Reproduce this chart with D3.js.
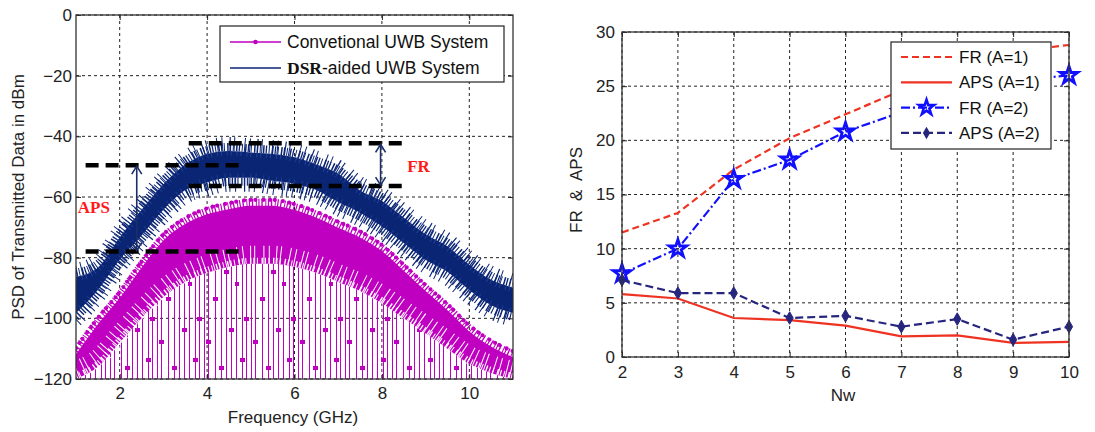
<!DOCTYPE html>
<html>
<head>
<meta charset="utf-8">
<script src="https://cdn.jsdelivr.net/npm/d3@7"></script>
<style>
  body { margin: 0; background: #fff; }
  svg { display: block; font-family: "Liberation Sans", Arial, sans-serif; }
</style>
</head>
<body>
<svg id="chart" width="1095" height="432"></svg>
<script>
// ---- left panel: PSD envelopes (dBm) ----
const freq = [1, 1.5, 2, 2.5, 3, 3.5, 4, 4.5, 5, 5.5, 6, 6.5, 7, 7.5, 8, 8.5, 9, 9.5, 10, 10.5, 11];
const dsrTop = [-85, -82, -72, -63, -54.5, -48, -44.5, -43.5, -44, -44.5, -45.6, -48, -51, -56.5, -60, -65.5, -71, -75, -81, -86, -88.5];
const dsrBottom = [-99.6, -92, -82, -74, -65.5, -59, -56.5, -55, -55, -56, -57, -59, -63, -66.5, -71, -76.5, -82, -86, -92, -97, -99.5];
const convTop = [-110.5, -100.6, -92, -82, -73, -67.6, -64.4, -62.7, -61.6, -61.6, -63, -65.5, -68.8, -72, -76.5, -83, -89.7, -96, -103, -108, -111.5];
const convDense = [-120, -116, -108, -100, -93, -88, -85, -83, -82, -82, -83, -85, -88, -91, -95, -100, -105, -110, -115, -118, -120];
const freqTicks = [2, 4, 6, 8, 10];
const psdTicks = [-120, -100, -80, -60, -40, -20, 0];

// annotation guides (data units)
const guideLines = [
  {x0: 1.22, x1: 4.88, y: -49.5},
  {x0: 1.22, x1: 4.88, y: -78},
  {x0: 3.58, x1: 8.51, y: -42.3},
  {x0: 3.58, x1: 8.51, y: -56.4}
];
const guideArrows = [
  {x: 2.39, y0: -49.5, y1: -78},
  {x: 7.97, y0: -42.3, y1: -56.4}
];
const guideLabels = [
  {text: "APS", x: 1.04, y: -65.4},
  {text: "FR", x: 8.58, y: -51.8}
];

// ---- right panel ----
const nw = [2, 3, 4, 5, 6, 7, 8, 9, 10];
const frA1 = [11.5, 13.3, 17.3, 20.2, 22.4, 24.6, 26.5, 28.2, 28.8];
const apsA1 = [5.8, 5.4, 3.6, 3.4, 2.9, 1.9, 2.0, 1.3, 1.4];
const frA2 = [7.7, 10.0, 16.4, 18.2, 20.8, 22.6, 24.2, 25.5, 26.0];
const apsA2 = [7.1, 5.9, 5.9, 3.6, 3.8, 2.8, 3.5, 1.6, 2.8];
const nwTicks = [2, 3, 4, 5, 6, 7, 8, 9, 10];
const frTicks = [0, 5, 10, 15, 20, 25, 30];

const MAG = "#c000c0", NAVY = "#0b2575", RED = "#ee3322", BLUE = "#1010ff", DBLUE = "#26267f";

const svg = d3.select("#chart");
const defs = svg.append("defs");

// thin vertical strokes standing in for the sparse spikes of the magenta trace
const spikes = defs.append("pattern").attr("id", "spikes")
  .attr("patternUnits", "userSpaceOnUse").attr("width", 47).attr("height", 131);
[[1, 20], [7, 96], [11, 55], [16, 118], [20, 78], [27, 35], [33, 104], [38, 8], [43, 66]].forEach(function(p) {
  spikes.append("rect").attr("x", p[0]).attr("y", 0).attr("width", 1).attr("height", 131).attr("fill", MAG);
  spikes.append("rect").attr("x", p[0] - 2).attr("y", p[1]).attr("width", 5).attr("height", 4).attr("fill", MAG);
});

function frame(g, x, y, xt, yt, pad) {
  const [x0, x1] = x.range(), [y1, y0] = y.range();
  // grid
  g.append("g").selectAll("line").data(xt).join("line")
    .attr("x1", d => x(d)).attr("x2", d => x(d)).attr("y1", y0).attr("y2", y1)
    .attr("stroke", "#222").attr("stroke-dasharray", "3,3");
  g.append("g").selectAll("line").data(yt).join("line")
    .attr("y1", d => y(d)).attr("y2", d => y(d)).attr("x1", x0).attr("x2", x1)
    .attr("stroke", "#222").attr("stroke-dasharray", "3,3");

  const ax = [
    g.append("g").attr("transform", `translate(0,${y1})`)
      .call(d3.axisBottom(x).tickValues(xt).tickSizeInner(-5).tickSizeOuter(0).tickPadding(pad.x)),
    g.append("g").attr("transform", `translate(${x0},0)`)
      .call(d3.axisLeft(y).tickValues(yt).tickSizeInner(-5).tickSizeOuter(0).tickPadding(pad.y)),
    g.append("g").attr("transform", `translate(0,${y0})`)
      .call(d3.axisTop(x).tickValues(xt).tickSizeInner(-5).tickSizeOuter(0).tickFormat("")),
    g.append("g").attr("transform", `translate(${x1},0)`)
      .call(d3.axisRight(y).tickValues(yt).tickSizeInner(-5).tickSizeOuter(0).tickFormat(""))
  ];
  ax.forEach(function(a) {
    a.select(".domain").remove();
    a.selectAll("line").attr("stroke", "#222");
    a.selectAll("text").attr("font-size", 17).attr("fill", "#222").attr("font-family", null);
  });
}

function box(g, x, y) {
  const [x0, x1] = x.range(), [y1, y0] = y.range();
  g.append("rect").attr("x", x0).attr("y", y0).attr("width", x1 - x0).attr("height", y1 - y0)
    .attr("fill", "none").attr("stroke", "#333").attr("stroke-width", 1.3);
}

// ================= LEFT PANEL =================
const xF = d3.scaleLinear().domain([1, 11]).range([76, 513]);
const yP = d3.scaleLinear().domain([-120, 0]).range([379, 15]);
const left = svg.append("g");

defs.append("clipPath").attr("id", "clipL").append("rect")
  .attr("x", 76).attr("y", 15).attr("width", 437).attr("height", 364);

frame(left, xF, yP, freqTicks, psdTicks, {x: 8, y: 4});

const spec = left.append("g").attr("clip-path", "url(#clipL)");
const rows = freq.map((f, i) => ({f, dt: dsrTop[i], db: dsrBottom[i], ct: convTop[i], cd: convDense[i]}));
const edge = (key, off) => d3.line().curve(d3.curveMonotoneX).x(d => xF(d.f)).y(d => yP(d[key]) + off);
function comb(key, off, color, width, dash, extra) {
  const p = spec.append("path").datum(rows).attr("d", edge(key, off))
    .attr("fill", "none").attr("stroke", color).attr("stroke-width", width).attr("stroke-dasharray", dash);
  if (extra) extra(p);
  return p;
}

// magenta: sparse spikes, dense body, ragged top with point markers
spec.append("path").datum(rows)
  .attr("d", d3.area().curve(d3.curveMonotoneX).x(d => xF(d.f)).y0(yP(-120)).y1(d => yP(d.cd)))
  .attr("fill", "url(#spikes)");
spec.append("path").datum(rows)
  .attr("d", d3.area().curve(d3.curveMonotoneX).x(d => xF(d.f)).y0(d => yP(d.cd)).y1(d => yP(d.ct) + 4))
  .attr("fill", MAG);
comb("cd", -9, "#fff", 18, "1,6.3,1,3.1,1,8.2,1,4.4");
comb("cd", -3, "#fff", 6, "1.2,2.4,1,3.6,1.4,1.9");
comb("ct", 1, MAG, 8, "1.2,1.8,1.4,2.6,1,1.5");
comb("ct", -2, MAG, 4.2, "0,6.5,0,4.8,0,8.1", p => p.attr("stroke-linecap", "round"));

// navy: body with comb-like ragged edges
spec.append("path").datum(rows)
  .attr("d", d3.area().curve(d3.curveMonotoneX).x(d => xF(d.f)).y0(d => yP(d.db) - 4).y1(d => yP(d.dt) + 4))
  .attr("fill", NAVY);
comb("dt", 0, NAVY, 8, "1.3,1.7,1,2.3,1.5,1.2");
comb("dt", -3, NAVY, 14, "1,4.1,1,6.7,1.2,3.2,1,9.5");
comb("db", 0, NAVY, 8, "1.3,1.7,1.1,2.6,1.4,1.3");
comb("db", 3, NAVY, 14, "1,4.7,1,7.9,1.2,3.4");
comb("dt", 6, "#3a5cb0", 5, "0.8,5.2,0.8,3.1", p => p.attr("opacity", 0.6));
comb("db", -6, "#3a5cb0", 5, "0.8,4.4,0.8,6.9", p => p.attr("opacity", 0.5));

// dashed guides, arrows, labels
left.append("g").selectAll("line").data(guideLines).join("line")
  .attr("x1", d => xF(d.x0)).attr("x2", d => xF(d.x1)).attr("y1", d => yP(d.y)).attr("y2", d => yP(d.y))
  .attr("stroke", "#000").attr("stroke-width", 4.5).attr("stroke-dasharray", "13,7");

const arr = left.append("g").selectAll("g").data(guideArrows).join("g")
  .attr("stroke", "#1b2f66").attr("stroke-width", 1.6).attr("fill", "none");
arr.append("line").attr("x1", d => xF(d.x)).attr("x2", d => xF(d.x))
  .attr("y1", d => yP(d.y0) + 1).attr("y2", d => yP(d.y1) - 1);
arr.append("path").attr("d", d => {
  const x = xF(d.x), a = yP(d.y0) + 1, b = yP(d.y1) - 1;
  return `M${x - 5},${a + 8}L${x},${a}L${x + 5},${a + 8}M${x - 5},${b - 8}L${x},${b}L${x + 5},${b - 8}`;
});

left.append("g").selectAll("text").data(guideLabels).join("text")
  .attr("x", d => xF(d.x)).attr("y", d => yP(d.y))
  .attr("font-family", "'Liberation Serif', 'Times New Roman', serif")
  .attr("font-weight", "bold").attr("font-size", 17).attr("fill", "#ff1a1a")
  .text(d => d.text);

box(left, xF, yP);

// legend
const legL = left.append("g");
legL.append("rect").attr("x", 220).attr("y", 26).attr("width", 284).attr("height", 56)
  .attr("fill", "#fff").attr("stroke", "#222").attr("stroke-width", 1.2);
legL.append("line").attr("x1", 230).attr("x2", 281).attr("y1", 42).attr("y2", 42).attr("stroke", MAG).attr("stroke-width", 1.3);
legL.append("circle").attr("cx", 255.5).attr("cy", 42).attr("r", 2.3).attr("fill", MAG);
legL.append("line").attr("x1", 230).attr("x2", 281).attr("y1", 68).attr("y2", 68).attr("stroke", NAVY).attr("stroke-width", 1.3);
legL.append("text").attr("x", 287).attr("y", 48).attr("font-size", 17.5).attr("fill", "#111")
  .text("Convetional UWB System");
const t2 = legL.append("text").attr("x", 287).attr("y", 74).attr("font-size", 17.5).attr("fill", "#111");
t2.append("tspan").attr("font-family", "'Liberation Serif', serif").attr("font-weight", "bold").text("DSR");
t2.append("tspan").text("-aided UWB System");

left.append("text").attr("x", 293).attr("y", 423).attr("text-anchor", "middle")
  .attr("font-size", 17).attr("fill", "#222").text("Frequency (GHz)");
left.append("text").attr("transform", "translate(24,197) rotate(-90)").attr("text-anchor", "middle")
  .attr("font-size", 17).attr("fill", "#222").text("PSD of Transmitted Data in dBm");

// ================= RIGHT PANEL =================
const xN = d3.scaleLinear().domain([2, 10]).range([622, 1069]);
const yR = d3.scaleLinear().domain([0, 30]).range([357, 32]);
const right = svg.append("g");

frame(right, xN, yR, nwTicks, frTicks, {x: 9, y: 7});

const series = [
  {name: "FR (A=1)", v: frA1, color: RED, dash: "7,4", w: 2.2, mark: null},
  {name: "APS (A=1)", v: apsA1, color: RED, dash: null, w: 2.2, mark: null},
  {name: "FR (A=2)", v: frA2, color: BLUE, dash: "9,3,2,3", w: 2.2, mark: "star"},
  {name: "APS (A=2)", v: apsA2, color: DBLUE, dash: "8,4", w: 2.2, mark: "diamond"}
];
const line = d3.line().x((d, i) => xN(nw[i])).y(d => yR(d));
const starSym = d3.symbol().type(d3.symbolStar).size(95);
const starLeg = d3.symbol().type(d3.symbolStar).size(70);
const diaSym = d3.symbol().type(d3.symbolDiamond).size(45);

series.forEach(function(s) {
  right.append("path").datum(s.v).attr("d", line)
    .attr("fill", "none").attr("stroke", s.color).attr("stroke-width", s.w)
    .attr("stroke-dasharray", s.dash);
  if (s.mark === "star") {
    right.append("g").selectAll("path").data(s.v).join("path")
      .attr("transform", (d, i) => `translate(${xN(nw[i])},${yR(d)})`)
      .attr("d", starSym).attr("fill", "none").attr("stroke", s.color).attr("stroke-width", 2.8);
  } else if (s.mark === "diamond") {
    right.append("g").selectAll("path").data(s.v).join("path")
      .attr("transform", (d, i) => `translate(${xN(nw[i])},${yR(d)})`)
      .attr("d", diaSym).attr("fill", s.color).attr("stroke", s.color).attr("stroke-width", 1);
  }
});

box(right, xN, yR);

const legR = right.append("g");
legR.append("rect").attr("x", 891).attr("y", 42).attr("width", 160).attr("height", 107)
  .attr("fill", "#fff").attr("stroke", "#222").attr("stroke-width", 1.2);
const item = legR.selectAll("g").data(series).join("g")
  .attr("transform", (d, i) => `translate(0,${57 + i * 25.3})`);
item.append("line").attr("x1", 901).attr("x2", 952)
  .attr("stroke", d => d.color).attr("stroke-width", d => d.w).attr("stroke-dasharray", d => d.dash);
item.filter(d => d.mark === "star").append("path").attr("transform", "translate(926.5,0)")
  .attr("d", starLeg).attr("fill", "none").attr("stroke", BLUE).attr("stroke-width", 2.6);
item.filter(d => d.mark === "diamond").append("path").attr("transform", "translate(926.5,0)")
  .attr("d", diaSym).attr("fill", DBLUE);
item.append("text").attr("x", 959).attr("y", 6).attr("font-size", 17).attr("fill", "#111")
  .text(d => d.name);

right.append("text").attr("x", 843).attr("y", 401).attr("text-anchor", "middle")
  .attr("font-size", 17).attr("fill", "#222").text("Nw");
right.append("text").attr("transform", "translate(582,190) rotate(-90)").attr("text-anchor", "middle")
  .attr("font-size", 17).attr("fill", "#222")
  .text("FR\u00a0 &\u00a0 APS");
</script>
</body>
</html>
